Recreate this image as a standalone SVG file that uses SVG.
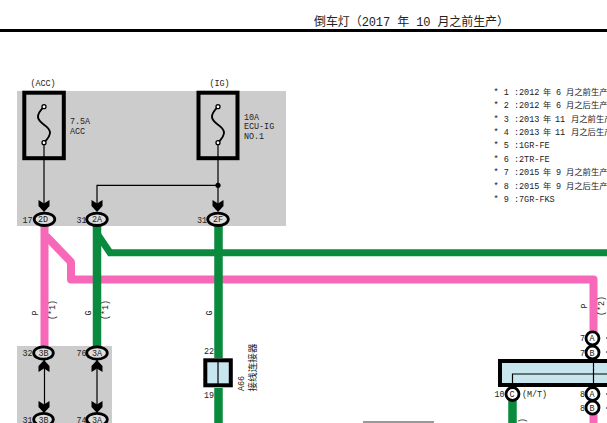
<svg xmlns="http://www.w3.org/2000/svg" width="607" height="423" viewBox="0 0 607 423">
<style>
text{font-family:"Liberation Mono","Noto Sans CJK SC",monospace;font-size:8.400px;fill:#222}
.t{font-size:12px;fill:#222}
.n{font-size:8.500px}
.k{font-size:8.300px}
.c{text-anchor:middle}
.grey{fill:#cccccc}
.pink{fill:none;stroke:#f868b8;stroke-width:8}
.green{fill:none;stroke:#0a8a3c;stroke-width:8.500}
.greenh{fill:none;stroke:#0a8a3c;stroke-width:7}
.thin{fill:none;stroke:#000;stroke-width:1.200}
.fuse{fill:none;stroke:#000;stroke-width:4}
.fw{fill:none;stroke:#000;stroke-width:1.900}
.dot{fill:#fff;stroke:#000;stroke-width:1.300}
.ov{fill:#ddd;stroke:#000;stroke-width:2.800}
.cir{fill:#fff;stroke:#000;stroke-width:2.800}
.blue{fill:#c8e6ee;stroke:#000;stroke-width:4}
</style>
<defs>
<path id="dn" d="M-5.500,-6 L0,-2.500 L5.500,-6 L5.500,0 L0,6 L-5.500,0 Z" fill="#000"/>
<path id="up" d="M-5.500,6 L0,2.500 L5.500,6 L5.500,0 L0,-6 L-5.500,0 Z" fill="#000"/>
<g id="fs"><path class="fw" d="M0,0 C-9,9 -7,13 0,18 C7,23 9,27 0,36"/><circle class="dot" cy="0" r="2"/><circle class="dot" cy="36" r="2"/></g>
</defs>
<g id="header"><rect x="0" y="29" width="607" height="3" fill="#000"/>
<text class="t" x="314" y="26" textLength="195" xml:space="preserve">倒车灯（2017 年 10 月之前生产）</text></g>
<g id="notes">
<text class="n" y="95"><tspan x="493.500">* 1 :2012</tspan><tspan class="k" x="543">年</tspan><tspan x="556">6</tspan><tspan class="k" x="566">月之前生产</tspan></text>
<text class="n" y="108"><tspan x="493.500">* 2 :2012</tspan><tspan class="k" x="543">年</tspan><tspan x="556">6</tspan><tspan class="k" x="566">月之后生产</tspan></text>
<text class="n" y="122"><tspan x="493.500">* 3 :2013</tspan><tspan class="k" x="543">年</tspan><tspan x="555">11</tspan><tspan class="k" x="571">月之前生产</tspan></text>
<text class="n" y="135"><tspan x="493.500">* 4 :2013</tspan><tspan class="k" x="543">年</tspan><tspan x="555">11</tspan><tspan class="k" x="571">月之后生产</tspan></text>
<text class="n" y="148"><tspan x="493.500">* 5 :1GR-FE</tspan></text>
<text class="n" y="162"><tspan x="493.500">* 6 :2TR-FE</tspan></text>
<text class="n" y="175"><tspan x="493.500">* 7 :2015</tspan><tspan class="k" x="543">年</tspan><tspan x="556">9</tspan><tspan class="k" x="566">月之前生产</tspan></text>
<text class="n" y="188.500"><tspan x="493.500">* 8 :2015</tspan><tspan class="k" x="543">年</tspan><tspan x="556">9</tspan><tspan class="k" x="566">月之后生产</tspan></text>
<text class="n" y="202"><tspan x="493.500">* 9 :7GR-FKS</tspan></text>
</g>
<g id="panel-top"><rect class="grey" x="17" y="91" width="269" height="135"/></g>
<g id="panel-bottom"><rect class="grey" x="17" y="346" width="95" height="77"/></g>
<g id="connectors">
<path class="pink" d="M44.500,226V346"/>
<path class="pink" stroke-linejoin="round" d="M46,236L71,262V279.500H593.500V332"/>
<path class="pink" d="M593.500,402V423"/>
<path class="greenh" d="M98,235L110,252.700H607"/>
<path class="green" d="M97,226V346"/>
<path class="green" d="M218.500,226V358M218.500,388V423"/>
<path class="green" d="M512.500,400V423"/>
<path class="thin" d="M44,143V205M218,143V205M218,185.300H97V205M44.500,360V412M97,360V412"/>
<circle cx="218" cy="185.300" r="2.600" fill="#000"/>
<use href="#dn" x="44" y="206"/><use href="#dn" x="97" y="206"/><use href="#dn" x="218" y="206"/>
<use href="#up" x="44" y="366"/><use href="#up" x="97" y="366"/>
<use href="#dn" x="44" y="407"/><use href="#dn" x="97" y="407"/>
</g>
<g id="fuse-acc"><rect class="fuse" x="24.300" y="92.700" width="39.500" height="65.500"/><use href="#fs" x="44" y="106.700"/>
<text x="70" y="124">7.5A</text><text x="70" y="134">ACC</text><text class="c" x="43" y="85.500">(ACC)</text></g>
<g id="fuse-ig"><rect class="fuse" x="198.500" y="92.700" width="39" height="65.500"/><use href="#fs" x="218" y="106.700"/>
<text x="244" y="120">10A</text><text x="244" y="129">ECU-IG</text><text x="244" y="138.500">NO.1</text><text class="c" x="219.500" y="85.500">(IG)</text></g>
<g id="conn-2D"><ellipse class="ov" cx="44.500" cy="219.300" rx="10.300" ry="6.200"/><text class="c" x="43" y="222">2D</text><text x="22.500" y="222.500">17</text></g>
<g id="conn-2A"><ellipse class="ov" cx="97" cy="219.300" rx="10.300" ry="6.200"/><text class="c" x="97" y="222">2A</text><text x="76.500" y="222.500">31</text></g>
<g id="conn-2F"><ellipse class="ov" cx="218" cy="219.300" rx="10.300" ry="6.200"/><text class="c" x="218" y="222">2F</text><text x="197" y="222.500">31</text></g>
<g id="conn-3B-top"><ellipse class="ov" cx="43.500" cy="353" rx="9.800" ry="6.200"/><text class="c" x="43.500" y="356">3B</text><text x="22.500" y="356">32</text></g>
<g id="conn-3A-top"><ellipse class="ov" cx="97" cy="353" rx="10.300" ry="6.200"/><text class="c" x="97" y="356">3A</text><text x="76.500" y="356">76</text></g>
<g id="conn-3B-bottom"><ellipse class="ov" cx="43.500" cy="419.500" rx="9.800" ry="6.200"/><text class="c" x="43.500" y="422.500">3B</text><text x="22.500" y="422.500">31</text></g>
<g id="conn-3A-bottom"><ellipse class="ov" cx="97" cy="419.500" rx="10.300" ry="6.200"/><text class="c" x="97" y="422.500">3A</text><text x="76.500" y="422.500">74</text></g>
<g id="wire-labels">
<text class="c" transform="translate(38,313) rotate(-90)">P</text>
<text class="c" transform="translate(55,310) rotate(-90)">(*1)</text>
<text class="c" transform="translate(91,313) rotate(-90)">G</text>
<text class="c" transform="translate(108,310) rotate(-90)">(*1)</text>
<text class="c" transform="translate(212,313) rotate(-90)">G</text>
<text class="c" transform="translate(587,306) rotate(-90)">P</text>
<text class="c" transform="translate(604,306) rotate(-90)">(*2)</text>
<text transform="translate(525,428) rotate(-90)">T)</text>
</g>
<g id="junction-A66"><rect class="blue" x="205.300" y="360.300" width="25.500" height="25"/><path class="thin" d="M218,360V385.500"/>
<text x="204" y="354">22</text><text x="204" y="398">19</text>
<text transform="translate(244,391) rotate(-90)">A66</text>
<text style="font-size:9.500px" transform="translate(255.500,391.500) rotate(-90)" textLength="48">接线连接器</text></g>
<g id="module"><rect class="blue" x="500" y="361" width="112" height="24"/><path class="thin" d="M593.500,345V400M512.500,400V374H607"/></g>
<g id="pin-7A"><circle class="cir" cx="592.500" cy="338.300" r="6.500"/><text class="c" x="592" y="341">A</text><text x="580" y="341">7</text></g>
<g id="pin-7B"><circle class="cir" cx="592.500" cy="352.500" r="6.500"/><text class="c" x="592" y="355.500">B</text><text x="580" y="355.500">7</text></g>
<g id="pin-8A"><circle class="cir" cx="592.500" cy="394" r="6.500"/><text class="c" x="592" y="397">A</text><text x="580" y="397">8</text></g>
<g id="pin-8B"><circle class="cir" cx="592.500" cy="407.700" r="6.500"/><text class="c" x="592" y="410.500">B</text><text x="580" y="410.500">8</text></g>
<g id="pin-10C"><circle class="cir" cx="512.500" cy="394" r="6.500"/><text class="c" x="512" y="397">C</text><text x="494.500" y="397">10</text><text x="522" y="397">(M/T)</text></g>
<g id="ticks"><path d="M606,338H607M606,352H607M606,394H607M606,408H607" stroke="#000"/></g>
<g id="bottom-rule"><rect x="363" y="421" width="71" height="2" fill="#999"/></g>
</svg>
